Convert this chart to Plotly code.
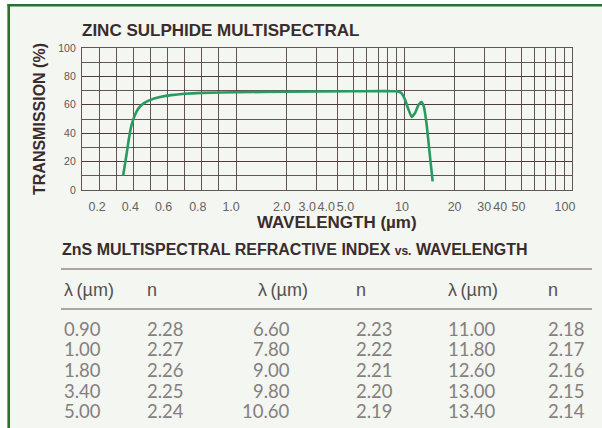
import numpy as np
import plotly.graph_objects as go

# ---------------- data ----------------
wavelength = [0.34, 0.36, 0.375, 0.39, 0.41, 0.43, 0.46, 0.50, 0.55, 0.62, 0.70, 0.80,
              1.0, 2.0, 5.0, 9.0, 9.6, 10.1, 10.6, 11.1, 11.6, 12.2, 12.7, 13.1, 13.6, 14.2, 14.8]
transmission = [10, 25, 37, 46, 53, 57.5, 61, 63.5, 65.3, 66.8, 67.8, 68.4,
                68.8, 69.2, 69.5, 69.5, 68.5, 64, 57, 51.5, 54, 60, 62, 59, 47, 26, 6]

x_tick_values = [0.2, 0.4, 0.6, 0.8, 1.0, 2, 3, 4, 5, 10, 20, 30, 40, 50, 100]
x_tick_labels = ["0.2", "0.4", "0.6", "0.8", "1.0", "2.0", "3.0", "4.0", "5.0",
                 "10", "20", "30", "40", "50", "100"]
# small horizontal nudges (px) of the printed labels relative to their grid line
x_label_nudge_px = [-2, -3, -4, -4, -5, -5, -9, -11, -8, -2, 0, 0, -5, -3, -7]
x_grid_values = [0.2, 0.3, 0.4, 0.5, 0.6, 0.7, 0.8, 0.9, 1.0,
                 2, 3, 4, 5, 6, 7, 8, 9, 10, 20, 30, 40, 50, 60, 70, 80, 90]
y_tick_values = [0, 20, 40, 60, 80, 100]

table_headers = ["\u03bb\u2009(\u00b5m)", "n", "\u03bb\u2009(\u00b5m)", "n", "\u03bb\u2009(\u00b5m)", "n"]
lam_col1 = ["0.90", "1.00", "1.80", "3.40", "5.00"]
n_col1 = ["2.28", "2.27", "2.26", "2.25", "2.24"]
lam_col2 = ["6.60", "7.80", "9.00", "9.80", "10.60"]
n_col2 = ["2.23", "2.22", "2.21", "2.20", "2.19"]
lam_col3 = ["11.00", "11.80", "12.60", "13.00", "13.40"]
n_col3 = ["2.18", "2.17", "2.16", "2.15", "2.14"]

# ---------------- axis mapping (linear 0.1-1, log 1-100) ----------------
DECADE_PX = 167.5
LIN = 153.7 / DECADE_PX


def axis_pos(w):
    w = np.asarray(w, dtype=float)
    return np.where(w <= 1, (w - 0.1) / 0.9 * LIN, LIN + np.log10(np.maximum(w, 1e-9)))


# ---------------- layout helpers ----------------
W, H = 602, 428
PL, PR, PT, PB = 82, 572, 48, 190


def px(x):
    return (x - PL) / (PR - PL)


def py(y):
    return (PB - y) / (PB - PT)


BG = "#f3f6f1"
GRID = "rgba(75,55,55,0.85)"
DARK = "#3a2c2c"
BOLD = "Liberation Sans"
NARROW = "Liberation Sans Narrow, Liberation Sans, Arial Narrow, sans-serif"

label_positions = list(axis_pos(x_tick_values) + np.array(x_label_nudge_px) / DECADE_PX)

fig = go.Figure()
fig.add_trace(go.Scatter(
    x=axis_pos(wavelength), y=transmission, mode="lines",
    line=dict(color="#2a9a60", width=2.6, shape="spline", smoothing=0.5),
    hoverinfo="skip", showlegend=False))

fig.update_layout(
    width=W, height=H,
    margin=dict(l=PL, r=W - PR, t=PT, b=H - PB),
    paper_bgcolor=BG, plot_bgcolor=BG,
    showlegend=False,
    xaxis=dict(
        range=[0, LIN + 2], tickmode="array",
        tickvals=label_positions, ticktext=x_tick_labels,
        showgrid=False,
        minor=dict(tickmode="array", tickvals=list(axis_pos(x_grid_values)),
                   showgrid=True, gridcolor=GRID, gridwidth=1.2),
        showline=True, linecolor=GRID, linewidth=1.2, mirror=True,
        zeroline=False, ticks="", tickangle=0, ticklabelstandoff=5,
        tickfont=dict(family=NARROW, size=12.5, color="#6a6262"),
        fixedrange=True),
    yaxis=dict(
        range=[0, 100], tickmode="array", tickvals=y_tick_values,
        showgrid=True, gridcolor=GRID, gridwidth=1.2,
        minor=dict(dtick=10, showgrid=True, gridcolor=GRID, gridwidth=1.2),
        showline=True, linecolor=GRID, linewidth=1.2, mirror=True,
        zeroline=False, ticks="", ticklabelstandoff=3,
        tickfont=dict(family=NARROW, size=10.5, color="#5e5555"),
        fixedrange=True),
)

ann = []
ann.append(dict(text="<b>ZINC SULPHIDE MULTISPECTRAL</b>", x=px(80), y=py(31),
                xanchor="left", yanchor="middle",
                font=dict(family=BOLD, size=17, color=DARK)))
ann.append(dict(text="<b>TRANSMISSION (%)</b>", x=px(39), y=py(119), textangle=-90,
                xanchor="center", yanchor="middle",
                font=dict(family=BOLD, size=16, color=DARK)))
ann.append(dict(text="<b>WAVELENGTH (\u00b5m)</b>", x=px(337), y=py(222),
                xanchor="center", yanchor="middle",
                font=dict(family=BOLD, size=17, color=DARK)))
ann.append(dict(text="<b>ZnS MULTISPECTRAL REFRACTIVE INDEX <span style='font-size:12px'>vs.</span> WAVELENGTH</b>",
                x=px(60), y=py(250), xanchor="left", yanchor="middle",
                font=dict(family=BOLD, size=16, color=DARK)))

header_x = [61.5, 145, 256, 354, 446, 546]
for hx, ht in zip(header_x, table_headers):
    ann.append(dict(text=ht, x=px(hx), y=py(290), xanchor="left", yanchor="middle",
                    font=dict(family="Liberation Sans", size=18, color="#555050")))

cols = [(lam_col1, 61.5, "left"), (n_col1, 145, "left"),
        (lam_col2, 292, "right"), (n_col2, 354, "left"),
        (lam_col3, 446, "left"), (n_col3, 546, "left")]
for values, cx, anchor in cols:
    for i, v in enumerate(values):
        ann.append(dict(text=v, x=px(cx), y=py(329 + i * 20.5), xanchor=anchor,
                        yanchor="middle",
                        font=dict(family="Lato", size=18.5, color="#857f7f")))

for a in ann:
    a.update(xref="paper", yref="paper", showarrow=False)
fig.update_layout(annotations=ann)

shapes = []
for ly in (269, 309):
    shapes.append(dict(type="line", xref="paper", yref="paper",
                       x0=px(61), x1=px(592), y0=py(ly), y1=py(ly),
                       line=dict(color="#918b8b", width=1.6)))
# white margins outside the green frame
shapes.append(dict(type="rect", xref="paper", yref="paper", x0=px(0), x1=px(W),
                   y0=py(0), y1=py(4), fillcolor="white", line=dict(width=0), layer="above"))
shapes.append(dict(type="rect", xref="paper", yref="paper", x0=px(0), x1=px(7.5),
                   y0=py(0), y1=py(H), fillcolor="white", line=dict(width=0), layer="above"))
shapes.append(dict(type="line", xref="paper", yref="paper", x0=px(7.5), x1=px(W),
                   y0=py(5.3), y1=py(5.3), line=dict(color="#2e6e2e", width=2.6)))
shapes.append(dict(type="line", xref="paper", yref="paper", x0=px(8.7), x1=px(8.7),
                   y0=py(4), y1=py(H), line=dict(color="#2e6e2e", width=2.6)))
fig.update_layout(shapes=shapes)

fig.write_html("out.html", config={"displayModeBar": False},
               post_script="document.body.style.margin='0px';document.body.style.overflow='hidden';")
